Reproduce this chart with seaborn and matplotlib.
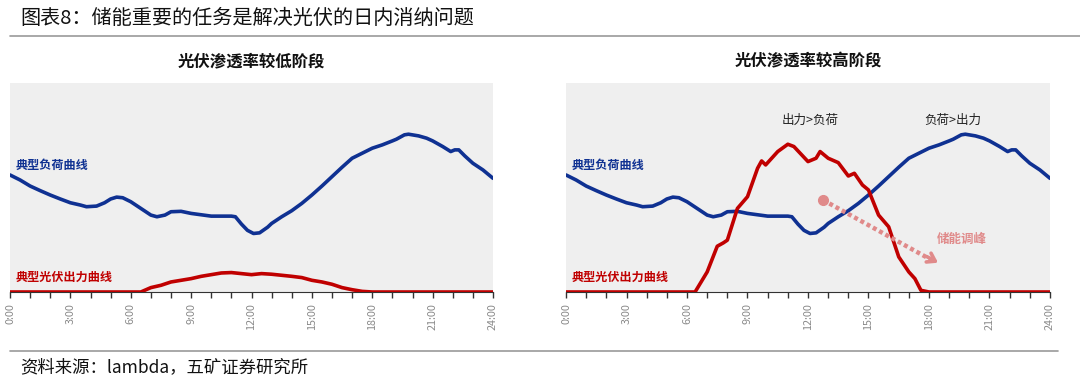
import numpy as np
import pandas as pd
import matplotlib
matplotlib.use("Agg")
import matplotlib.pyplot as plt
import seaborn as sns

sns.set_theme(style="white")
plt.rcParams['font.family'] = ['Noto Sans CJK SC', 'DejaVu Sans']

# ---- data ----
load_hours = [0, 0.5, 1, 1.5, 2, 2.5, 3, 3.5, 3.8, 4.3, 4.7, 5, 5.3, 5.6, 6, 6.5, 7, 7.3, 7.7, 8,
              8.5, 9, 10, 11, 11.2, 11.5, 11.8, 12.1, 12.4, 12.8, 13, 13.5, 14, 14.5, 15, 15.5,
              16, 16.5, 17, 17.5, 18, 18.5, 19, 19.2, 19.6, 19.8, 20.3, 20.7, 21, 21.5, 21.9,
              22.1, 22.3, 22.6, 23, 23.5, 24]
load_vals = [56.0, 53.6, 50.7, 48.5, 46.4, 44.5, 42.7, 41.6, 40.8, 41.1, 42.7, 44.5, 45.4, 45.1,
             43.2, 40.0, 36.8, 36.0, 36.8, 38.4, 38.6, 37.6, 36.3, 36.3, 36.0, 32.5, 29.5, 28.0,
             28.3, 31.0, 32.8, 36.0, 38.9, 42.4, 46.4, 50.7, 55.2, 59.7, 64.0, 66.4, 68.8, 70.4,
             72.3, 73.1, 75.2, 75.5, 74.7, 73.6, 72.3, 69.6, 67.2, 68.0, 68.0, 65.1, 61.6, 58.4,
             54.4]

pv_low_hours = [0, 6.5, 7, 7.5, 8, 8.5, 9, 9.5, 10, 10.5, 11, 11.5, 12, 12.5, 13, 13.5, 14, 14.5,
                15, 15.5, 16, 16.5, 17, 17.5, 18, 24]
pv_low_vals = [0, 0, 2.1, 3.2, 4.8, 5.6, 6.4, 7.5, 8.3, 9.1, 9.3, 8.8, 8.3, 8.8, 8.5, 8.0, 7.5, 6.9,
               5.6, 4.8, 3.7, 2.1, 1.1, 0.3, 0, 0]

pv_high_hours = [0, 6.4, 7, 7.5, 7.8, 8, 8.5, 9, 9.5, 9.7, 9.9, 10.5, 11, 11.3, 12, 12.4, 12.6, 13,
                 13.5, 14, 14.3, 14.7, 15, 15.5, 16, 16.5, 17, 17.3, 17.6, 18, 24]
pv_high_vals = [0, 0, 9.6, 21.9, 23.5, 24.8, 40.0, 45.6, 59.2, 62.7, 60.8, 67.2, 70.7, 69.6, 62.4,
                64.0, 67.2, 64.0, 61.9, 55.5, 56.8, 51.2, 48.8, 36.8, 31.2, 16.8, 9.6, 6.4, 0.8, 0, 0]

tick_hours = list(range(0, 25, 3))
tick_labels = [f"{h}:00" for h in tick_hours]

panel_titles = ["光伏渗透率较低阶段", "光伏渗透率较高阶段"]

BLUE = "#0f3192"
RED = "#c00000"
PINK = "#e08a8a"
BG = "#efefef"

load_df = pd.DataFrame({"hour": load_hours, "value": load_vals})
pvl_df = pd.DataFrame({"hour": pv_low_hours, "value": pv_low_vals})
pvh_df = pd.DataFrame({"hour": pv_high_hours, "value": pv_high_vals})

fig = plt.figure(figsize=(10.8, 3.86), dpi=100)
axL = fig.add_axes([10/1080, 1-292/386, 483/1080, 209/386])
axR = fig.add_axes([566/1080, 1-292/386, 484/1080, 209/386])

for ax, pv_df, title in [(axL, pvl_df, panel_titles[0]), (axR, pvh_df, panel_titles[1])]:
    ax.set_facecolor(BG)
    sns.lineplot(data=load_df, x="hour", y="value", ax=ax, color=BLUE, lw=2.6, zorder=3,
                 solid_joinstyle="round", solid_capstyle="round")
    sns.lineplot(data=pv_df, x="hour", y="value", ax=ax, color=RED, lw=2.6, zorder=4,
                 solid_joinstyle="round", solid_capstyle="butt")
    ax.set_xlim(0, 24)
    ax.set_ylim(0, 100)
    ax.set_xlabel("")
    ax.set_ylabel("")
    ax.set_yticks([])
    ax.set_xticks(range(0, 25))
    ax.set_xticklabels([f"{h}:00" if h % 3 == 0 else "" for h in range(0, 25)],
                       rotation=90, fontsize=7.8, color="#8a8a8a")
    ax.tick_params(axis="x", direction="out", length=4, width=1, color="#333333", pad=4, bottom=True)
    for s in ["top", "left", "right"]:
        ax.spines[s].set_visible(False)
    ax.spines["bottom"].set_color("#333333")
    ax.spines["bottom"].set_linewidth(0.8)
    ax.text(0.012, 0.605, "典型负荷曲线", transform=ax.transAxes, color=BLUE,
            fontsize=8.7, fontweight="bold", ha="left", va="center", zorder=5)
    ax.text(0.012, 0.07, "典型光伏出力曲线", transform=ax.transAxes, color=RED,
            fontsize=8.7, fontweight="bold", ha="left", va="center", zorder=5)
    ax.set_title(title, fontsize=11.8, fontweight="bold", color="#111111", pad=12)

# annotations right panel
axR.text(12.1, 82, "出力>负荷", ha="center", va="center", fontsize=9, color="#222222")
axR.text(19.2, 82, "负荷>出力", ha="center", va="center", fontsize=9, color="#222222")
axR.text(18.4, 25, "储能调峰", ha="left", va="center", fontsize=9, color=PINK, fontweight="bold")
axR.plot([12.75], [44], marker="o", ms=7, color=PINK, zorder=6)
axR.plot([12.75, 18.2], [44, 14.9], color=PINK, lw=3.2, linestyle=(0, (0.9, 0.7)),
         dash_capstyle="butt", zorder=6)
axR.annotate("", xy=(18.45, 14.0), xytext=(17.9, 16.9),
             arrowprops=dict(arrowstyle="->,head_length=0.45,head_width=0.3", color=PINK, lw=2.6,
                             shrinkA=0, shrinkB=0), zorder=6)

# header / footer
fig.text(20/1080, 1-18/386, "图表8：储能重要的任务是解决光伏的日内消纳问题",
         fontsize=14.5, color="#111111", ha="left", va="center")
fig.add_artist(plt.Line2D([10/1080, 1.0], [1-36/386, 1-36/386], color="#999999", lw=1.2))
fig.add_artist(plt.Line2D([10/1080, 1058/1080], [1-351/386, 1-351/386], color="#999999", lw=1.2))
fig.text(20/1080, 1-367/386, "资料来源：lambda，五矿证券研究所",
         fontsize=12.5, color="#111111", ha="left", va="center")

fig.savefig("out.png", dpi=100, facecolor="white")
